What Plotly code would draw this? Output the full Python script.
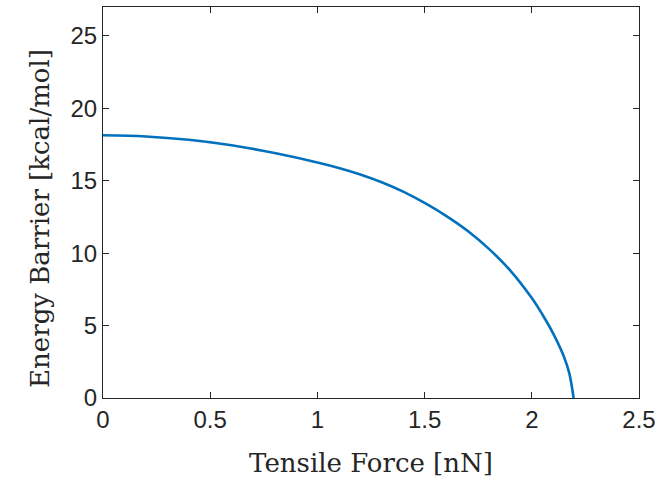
import plotly.graph_objects as go

force = [0, 0.2, 0.4, 0.6, 0.8, 1.0, 1.1, 1.2, 1.3, 1.4, 1.5, 1.6, 1.7, 1.8, 1.9, 2.0, 2.05, 2.1, 2.15, 2.175, 2.195]
energy = [18.14, 18.06, 17.83, 17.45, 16.92, 16.27, 15.89, 15.44, 14.90, 14.25, 13.47, 12.58, 11.55, 10.30, 8.80, 6.90, 5.75, 4.45, 2.85, 1.70, 0.0]

x_ticks = [0, 0.5, 1, 1.5, 2, 2.5]
x_labels = ["0", "0.5", "1", "1.5", "2", "2.5"]
y_ticks = [0, 5, 10, 15, 20, 25]
y_labels = ["0", "5", "10", "15", "20", "25"]

fig = go.Figure()
fig.add_trace(go.Scatter(x=force, y=energy, mode="lines",
                         line=dict(color="#0072BD", width=2.6, shape="spline", smoothing=1.0),
                         showlegend=False))

axis_common = dict(showgrid=False, zeroline=False, showline=True, linecolor="#262626",
                   linewidth=1, mirror="ticks", ticks="inside", ticklen=6, tickcolor="#262626",
                   automargin=False,
                   tickfont=dict(family="Liberation Sans, Arial", size=24, color="#262626"))

title_font = dict(family="DejaVu Serif", size=26, color="#262626")

fig.update_xaxes(range=[0, 2.5], tickvals=x_ticks, ticktext=x_labels,
                 title=dict(text="Tensile Force [nN]", font=title_font, standoff=22),
                 **axis_common)
fig.update_yaxes(range=[0, 27], tickvals=y_ticks, ticktext=y_labels, **axis_common)

fig.add_annotation(text="Energy Barrier [kcal/mol]", textangle=-90, font=title_font,
                   xref="paper", yref="paper", x=-0.118, y=0.46,
                   xanchor="center", yanchor="middle", showarrow=False)

fig.update_layout(width=671, height=482, margin=dict(l=103, r=32, t=7, b=84),
                  plot_bgcolor="white", paper_bgcolor="white")

fig.write_html("out.html", config={"displayModeBar": False},
               post_script="document.body.style.margin='0';")
